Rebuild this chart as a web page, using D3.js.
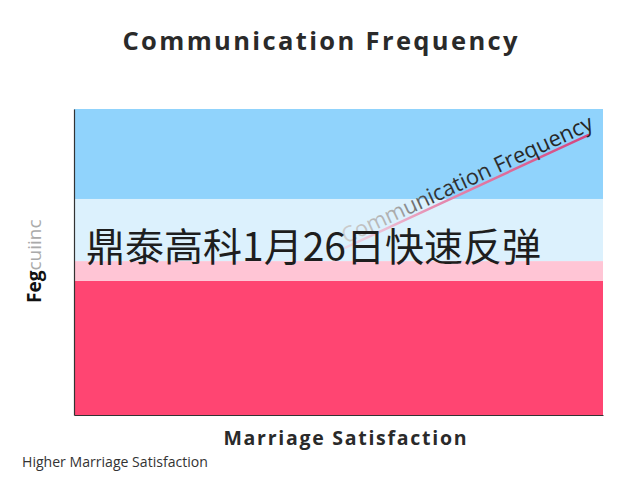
<!DOCTYPE html>
<html>
<head>
<meta charset="utf-8">
<script src="https://cdn.jsdelivr.net/npm/d3@7"></script>
<style>
  body { margin: 0; background: #fff; }
  svg { display: block; }
</style>
</head>
<body>
<svg width="640" height="480"></svg>
<script>
// Horizontal bands, bottom to top (value range on y, 0-100)
const bandNames = ["low", "lowEdge", "midLight", "high"];
const bandFrom = [0, 43.8, 50.3, 70.6];
const bandTo = [43.8, 50.3, 70.6, 100];
const bandColors = ["#ff4572", "#ffc5d5", "#dcf1fd", "#90d3fc"];

// Trend line (x = satisfaction, y = frequency)
const lineX = [51.2, 97.2];
const lineY = [54.6, 91.5];

const titleText = "Communication Frequency";
const xLabel = "Marriage Satisfaction";
const yLabelBold = "Feg";
const yLabelLight = "cuiinc";
const noteText = "Higher Marriage Satisfaction";
const overlayText = "鼎泰高科1月26日快速反弹";

const svg = d3.select("svg"),
  width = +svg.attr("width"),
  height = +svg.attr("height");

const margin = { top: 109, right: 37, bottom: 65, left: 74 };

const x = d3.scaleLinear().domain([0, 100]).range([margin.left, width - margin.right]);
const y = d3.scaleLinear().domain([0, 100]).range([height - margin.bottom, margin.top]);

// scale a text's font size so it spans about w pixels
function fitText(sel, w) {
  const fs = +sel.attr("font-size");
  const len = sel.node().getComputedTextLength();
  if (len > 0) sel.attr("font-size", (fs * w / len).toFixed(2));
  return sel;
}

const defs = svg.append("defs");

// gradient for the trend line, fades out to the lower left
const lg = defs.append("linearGradient")
  .attr("id", "lineGrad")
  .attr("gradientUnits", "userSpaceOnUse")
  .attr("x1", x(lineX[0])).attr("y1", y(lineY[0]))
  .attr("x2", x(lineX[1])).attr("y2", y(lineY[1]));
lg.append("stop").attr("offset", 0).attr("stop-color", "#f6c6d6").attr("stop-opacity", 0.6);
lg.append("stop").attr("offset", 0.35).attr("stop-color", "#e690b3");
lg.append("stop").attr("offset", 1).attr("stop-color", "#d4447e");

// gradient for the label along the line
const tg = defs.append("linearGradient")
  .attr("id", "textGrad")
  .attr("x1", 0).attr("y1", 0).attr("x2", 1).attr("y2", 0);
tg.append("stop").attr("offset", 0).attr("stop-color", "#cfcfcf");
tg.append("stop").attr("offset", 0.22).attr("stop-color", "#aaa");
tg.append("stop").attr("offset", 0.36).attr("stop-color", "#333");
tg.append("stop").attr("offset", 1).attr("stop-color", "#222");

// Draw the bands
svg.append("g")
  .selectAll("rect")
  .data(bandNames)
  .enter().append("rect")
  .attr("x", x(0))
  .attr("width", x(100) - x(0))
  .attr("y", (d, i) => y(bandTo[i]))
  .attr("height", (d, i) => y(bandFrom[i]) - y(bandTo[i]))
  .attr("fill", (d, i) => bandColors[i]);

// Axes with no ticks
svg.append("g")
  .attr("transform", `translate(0,${y(0)})`)
  .call(d3.axisBottom(x).tickValues([]).tickSizeOuter(0))
  .select(".domain").attr("stroke", "#333").attr("stroke-width", 1.2);

svg.append("g")
  .attr("transform", `translate(${x(0)},0)`)
  .call(d3.axisLeft(y).tickValues([]).tickSizeOuter(0))
  .select(".domain").attr("stroke", "#333").attr("stroke-width", 1.2);

// Trend line
const pts = lineX.map((v, i) => [x(v), y(lineY[i])]);
svg.append("path")
  .attr("d", d3.line()(pts))
  .attr("fill", "none")
  .attr("stroke", "url(#lineGrad)")
  .attr("stroke-width", 2.5)
  .attr("stroke-linecap", "round");

// Label along the line
const angle = Math.atan2(pts[1][1] - pts[0][1], pts[1][0] - pts[0][0]) * 180 / Math.PI;
const lineLen = Math.hypot(pts[1][0] - pts[0][0], pts[1][1] - pts[0][1]);
const lineLabel = svg.append("text")
  .attr("transform", `translate(${pts[0][0] + 1},${pts[0][1] - 4}) rotate(${angle})`)
  .attr("font-family", "Open Sans, sans-serif")
  .attr("font-size", 18)
  .attr("fill", "url(#textGrad)")
  .text(titleText);
fitText(lineLabel, lineLen + 6);

// Overlay caption
svg.append("text")
  .attr("x", 86)
  .attr("y", 261)
  .attr("font-family", "Noto Sans CJK SC, sans-serif")
  .attr("font-size", 39)
  .attr("fill", "#1e1e1e")
  .text(overlayText);

// Title
svg.append("text")
  .attr("x", 320)
  .attr("y", 50)
  .attr("text-anchor", "middle")
  .attr("font-family", "Open Sans, sans-serif")
  .attr("font-weight", "bold")
  .attr("font-size", 25.5)
  .attr("textLength", 395)
  .attr("lengthAdjust", "spacing")
  .attr("fill", "#2a2a2a")
  .text(titleText);

// x axis label
svg.append("text")
  .attr("x", 345)
  .attr("y", 445)
  .attr("text-anchor", "middle")
  .attr("font-family", "Open Sans, sans-serif")
  .attr("font-weight", "bold")
  .attr("font-size", 19.5)
  .attr("textLength", 243)
  .attr("lengthAdjust", "spacing")
  .attr("fill", "#2a2a2a")
  .text(xLabel);

// y axis label (rotated)
const yl = svg.append("text")
  .attr("transform", "translate(41,303) rotate(-90)")
  .attr("font-family", "Open Sans, sans-serif")
  .attr("font-size", 19);
yl.append("tspan").attr("font-weight", "bold").attr("fill", "#111").text(yLabelBold);
yl.append("tspan").attr("fill", "#aaa").text(yLabelLight);

// bottom note
const note = svg.append("text")
  .attr("x", 22)
  .attr("y", 467)
  .attr("font-family", "Open Sans, sans-serif")
  .attr("font-size", 12)
  .attr("fill", "#333")
  .text(noteText);
fitText(note, 186);
</script>
</body>
</html>
